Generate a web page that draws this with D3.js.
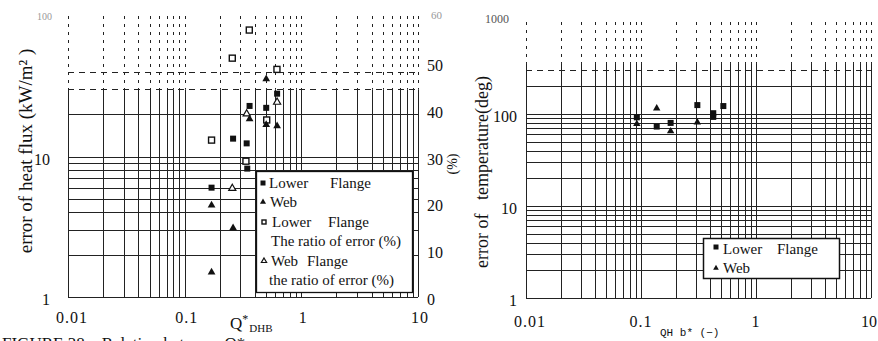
<!DOCTYPE html>
<html><head><meta charset="utf-8">
<script src="https://cdn.jsdelivr.net/npm/d3@7"></script>
<style>
body{margin:0;background:#fff}
svg{display:block}
</style>
</head><body>
<svg id="c" width="878" height="341"></svg>
<script>
// ---- tick labels ----
const xTickValues = [0.01, 0.1, 1, 10];
const xTickLabels = ["0.01", "0.1", "1", "10"];
const leftYTickValues = [1, 10, 100];
const leftYTickLabels = ["1", "10", "100"];
const pctTickValues = [0, 10, 20, 30, 40, 50, 60];
const pctTickLabels = ["0", "10", "20", "30", "40", "50", "60"];
const rightYTickValues = [1, 10, 100, 1000];
const rightYTickLabels = ["1", "10", "100", "1000"];

// ---- left chart: Q*DHB vs error of heat flux / ratio of error ----
const lfQ      = [0.17, 0.26, 0.34, 0.36, 0.344, 0.50, 0.62];
const lfFlux   = [6.0, 13.4, 12.4, 22.9, 8.2, 22.2, 28.0];
const webQ     = [0.17, 0.26, 0.17, 0.36, 0.50, 0.62, 0.50];
const webFlux  = [4.5, 3.1, 1.5, 18.5, 16.8, 16.5, 35.6];
const lfRatioQ = [0.17, 0.256, 0.358, 0.335, 0.505, 0.618];
const lfRatio  = [33.5, 51.0, 57.0, 29.0, 37.8, 48.6];
const webRatioQ = [0.256, 0.34, 0.62];
const webRatio  = [23.2, 39.1, 41.6];

// ---- right chart: QHb* vs error of temperature ----
const lfQH   = [0.092, 0.137, 0.181, 0.309, 0.425, 0.425, 0.52];
const lfTemp = [92, 73, 80, 125, 102, 93, 122];
const webQH   = [0.092, 0.137, 0.181, 0.309];
const webTemp = [78, 115, 65, 81];

const SERIF = "'Liberation Serif', 'Times New Roman', Times, 'DejaVu Serif', serif";
const svg = d3.select("#c");
const INK = "#222";

function txt(g, x, y, size, s) {
  return g.append("text").attr("x", x).attr("y", y)
    .style("font-family", SERIF).style("font-size", size + "px").style("fill", "#111").text(s);
}

// ---------- LEFT CHART ----------
const xL = d3.scaleLog().domain([0.01, 10]).range([68, 418]);
const yL = d3.scaleLog().domain([1, 100]).range([297, 16]);
const yP = d3.scaleLinear().domain([0, 60]).range([297, 16]);

const gL = svg.append("g");
xL.ticks().forEach(v => {
  const x = Math.round(xL(v)) + 0.5;
  gL.append("line").attr("x1", x).attr("x2", x).attr("y1", yL(100)).attr("y2", yL(30))
    .attr("stroke", INK).attr("stroke-width", 1).attr("stroke-dasharray", "3,5");
  gL.append("line").attr("x1", x).attr("x2", x).attr("y1", yL(30)).attr("y2", yL(1))
    .attr("stroke", INK).attr("stroke-width", 1);
});
yL.ticks().filter(v => v <= 40).forEach(v => {
  const y = Math.round(yL(v)) + 0.5;
  gL.append("line").attr("x1", xL(0.01)).attr("x2", xL(10)).attr("y1", y).attr("y2", y)
    .attr("stroke", INK).attr("stroke-width", 1)
    .attr("stroke-dasharray", v >= 30 ? "6,5" : null);
});

xTickValues.forEach((v, i) => {
  txt(gL, xL(v) + (i === 0 ? 4 : 2), 323, 16, xTickLabels[i])
    .attr("text-anchor", "middle").attr("letter-spacing", 1);
});
leftYTickValues.forEach((v, i) => {
  const t = txt(gL, 50, yL(v) + 8, 16, leftYTickLabels[i]).attr("text-anchor", "end");
  if (v === 100) t.attr("x", 52).attr("y", 20).style("font-size", "10px").style("fill", "#999");
});
pctTickValues.forEach((v, i) => {
  const t = txt(gL, 427, yP(v) + 8, 16, pctTickLabels[i]);
  if (v === 60) t.attr("y", 19).attr("x", 431).style("font-size", "11px").style("fill", "#999");
});

txt(gL, 0, 0, 19, "error of heat flux (kW/m² )")
  .attr("transform", "translate(32,151) rotate(-90)").attr("text-anchor", "middle");
txt(gL, 0, 0, 14, "(%)")
  .attr("transform", "translate(457,164) rotate(-90)").attr("text-anchor", "middle");
const qt = txt(gL, 230, 329, 17, "");
qt.append("tspan").text("Q");
qt.append("tspan").style("font-size", "12px").attr("dy", -6).text("*");
qt.append("tspan").style("font-size", "11px").attr("dy", 9).attr("dx", 1).text("DHB");

// caption (cut off at the bottom edge, as in the reference)
txt(svg, 2, 349, 17, "FIGURE 38    Relation between Q*").style("white-space", "pre");

const tri = d3.symbol().type(d3.symbolTriangle);
function fillSq(g, x, y, s) {
  g.append("rect").attr("x", x - s / 2).attr("y", y - s / 2).attr("width", s).attr("height", s).attr("fill", "#111");
}
function openSq(g, x, y, s) {
  g.append("rect").attr("x", x - s / 2).attr("y", y - s / 2).attr("width", s).attr("height", s)
    .attr("fill", "#fff").attr("stroke", "#111").attr("stroke-width", 1.4);
}
function fillTri(g, x, y, size) {
  g.append("path").attr("d", tri.size(size)()).attr("transform", `translate(${x},${y})`).attr("fill", "#111");
}
function openTri(g, x, y, size) {
  g.append("path").attr("d", tri.size(size)()).attr("transform", `translate(${x},${y})`)
    .attr("fill", "#fff").attr("stroke", "#111").attr("stroke-width", 1.2);
}

lfRatioQ.forEach((q, i) => openSq(gL, xL(q), yP(lfRatio[i]), 6));
webRatioQ.forEach((q, i) => openTri(gL, xL(q), yP(webRatio[i]), 22));
lfQ.forEach((q, i) => fillSq(gL, xL(q), yL(lfFlux[i]), 6));
webQ.forEach((q, i) => fillTri(gL, xL(q), yL(webFlux[i]), 26));

const lg = gL.append("g");
lg.append("rect").attr("x", 256.5).attr("y", 171.5).attr("width", 156).attr("height", 121)
  .attr("fill", "#fff").attr("stroke", "#111").attr("stroke-width", 1.3);
fillSq(lg, 263, 183, 5);
txt(lg, 269, 188, 15, "Lower");
txt(lg, 330, 188, 15, "Flange");
fillTri(lg, 263, 202, 16);
txt(lg, 270, 207, 15, "Web");
openSq(lg, 264, 222, 4);
txt(lg, 272, 227, 15, "Lower");
txt(lg, 328, 227, 15, "Flange");
txt(lg, 271, 246, 15, "The ratio of error (%)");
openTri(lg, 264, 261, 12);
txt(lg, 271, 266, 15, "Web");
txt(lg, 307, 266, 15, "Flange");
txt(lg, 269, 285, 15, "the ratio of error (%)");

// ---------- RIGHT CHART ----------
const xR = d3.scaleLog().domain([0.01, 10]).range([526, 871]);
const yR = d3.scaleLog().domain([1, 1000]).range([298, 22]);
const gR = svg.append("g");

xR.ticks().forEach(v => {
  const x = Math.round(xR(v)) + 0.5;
  gR.append("line").attr("x1", x).attr("x2", x).attr("y1", yR(1000)).attr("y2", yR(350))
    .attr("stroke", INK).attr("stroke-width", 1).attr("stroke-dasharray", "3,5");
  gR.append("line").attr("x1", x).attr("x2", x).attr("y1", yR(350)).attr("y2", yR(1))
    .attr("stroke", INK).attr("stroke-width", 1);
});
yR.ticks().filter(v => v <= 300).forEach(v => {
  const y = Math.round(yR(v)) + 0.5;
  gR.append("line").attr("x1", xR(0.01)).attr("x2", xR(10)).attr("y1", y).attr("y2", y)
    .attr("stroke", INK).attr("stroke-width", 1)
    .attr("stroke-dasharray", v >= 300 ? "6,5" : null);
});

xTickValues.forEach((v, i) => {
  const t = txt(gR, xR(v) + (i === 0 ? 4 : 0), 327, 16, xTickLabels[i])
    .attr("text-anchor", "middle").attr("letter-spacing", 1);
  if (v === 10) t.attr("text-anchor", "end").attr("x", 877).attr("letter-spacing", 0);
});
rightYTickValues.forEach((v, i) => {
  const t = txt(gR, 517, yR(v) + 8, 16, rightYTickLabels[i]).attr("text-anchor", "end");
  if (v === 1000) t.attr("x", 509).attr("y", 23).style("font-size", "12px").style("fill", "#555");
});
txt(gR, 0, 0, 18, "error of   temperature(deg)")
  .attr("transform", "translate(488,172) rotate(-90)").attr("text-anchor", "middle")
  .style("white-space", "pre");
gR.append("text").attr("x", 660).attr("y", 336)
  .style("font-family", "'Liberation Mono', 'DejaVu Sans Mono', monospace").style("font-size", "11px")
  .style("white-space", "pre").style("fill", "#111").text("QH b* (−)");

lfQH.forEach((q, i) => fillSq(gR, xR(q), yR(lfTemp[i]), 6));
webQH.forEach((q, i) => fillTri(gR, xR(q), yR(webTemp[i]), 24));

const lg2 = gR.append("g");
lg2.append("rect").attr("x", 703.5).attr("y", 238.5).attr("width", 136).attr("height", 40)
  .attr("fill", "#fff").attr("stroke", "#111").attr("stroke-width", 1.5);
fillSq(lg2, 716, 247, 5);
txt(lg2, 723, 254, 15, "Lower");
txt(lg2, 777, 254, 15, "Flange");
fillTri(lg2, 716, 268, 14);
txt(lg2, 723, 273, 15, "Web");
</script>
</body></html>
